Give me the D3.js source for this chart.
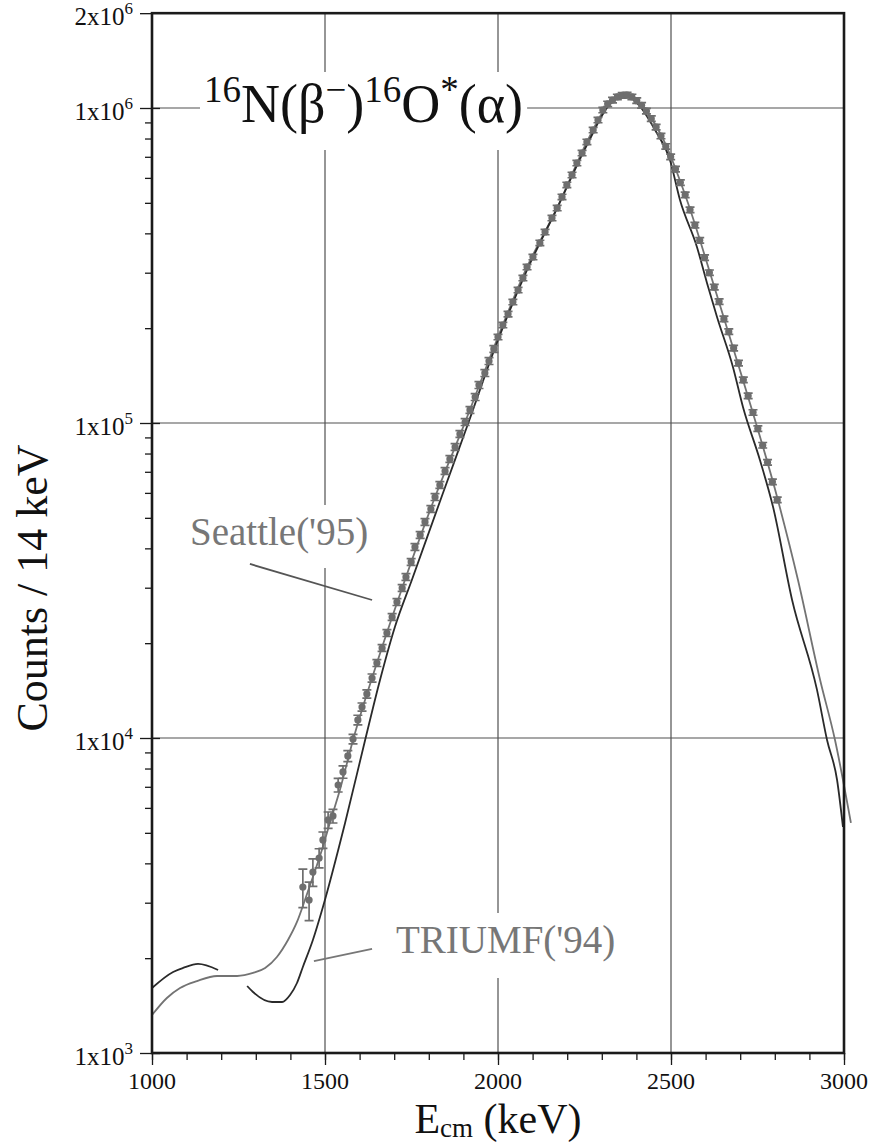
<!doctype html>
<html lang="en">
  <head>
    <meta charset="utf-8">
    <script src="https://d3js.org/d3.v7.min.js"></script>
    <title>16N beta-delayed alpha spectrum</title>
    <style>
      body { margin: 0; background: #fff; }
      svg text { font-family: "Liberation Serif", "DejaVu Serif", serif; }
    </style>
  </head>
  <body>
    <div id="chart"></div>
    <script type="text/javascript">

      /* Seattle('95) data points : energy (keV), counts / 14 keV, relative error (%) */
      const dataE = [1436,1454,1465,1483,1494,1509,1523,1538,1552,1566,1581,1595,1607,1621,1636,1650,1665,1679,1694,1708,
                     1723,1734,1749,1760,1775,1789,1806,1818,1832,1847,1861,1876,1890,1905,1919,1934,1945,1962,1974,1988,
                     2000,2014,2029,2043,2058,2072,2084,2101,2121,2136,2156,2171,2185,2199,2214,2228,2243,2257,2275,2289,
                     2303,2317,2331,2345,2359,2373,2387,2401,2415,2429,2443,2457,2471,2485,2499,2513,2527,2541,2555,2569,
                     2583,2597,2611,2625,2639,2653,2667,2681,2695,2709,2723,2737,2751,2765,2779,2793,2807];
      const dataC = [3365,3060,3755,4159,4746,5493,5656,7093,7802,8770,9927,11410,12540,13800,15500,17300,19310,21540,24220,27020,
                     29940,32440,36220,40400,44110,48510,53330,58210,63560,70410,76860,83920,92290,100700,110000,120900,132000,144100,157300,171800,
                     187500,204700,221800,242200,264400,288600,312800,336500,372900,404000,447500,481400,521900,569800,612900,669000,719700,780200,851500,916100,
                     985600,1030000,1060000,1084000,1097000,1099000,1084000,1055000,1020000,978000,925000,870000,815000,755000,700000,640000,580000,530000,475000,425000,
                     380000,335000,300000,270000,243000,214000,195000,173000,155000,137000,122000,108000,96000,85000,75000,65000,57000];
      const dataErr = [14,14,10,7,6,6,5,5,4.5,4,3.5,3.5,3,3,3,2.5,2.5,2.5,2.5,2.5,
                       2.5,2.5,2.5,2.5,2.5,2.5,2.5,2.5,2.5,2.5,2.5,2.5,2.5,2.5,2.5,2.5,2.5,2.5,2.5,2.5,
                       2,2,2,2,2,2,2,2,2,2,2,2,2,2,2,2,2,2,2,2,
                       2,2,2,2,2,2,2,2,2,2,2,2,2,2,2,2,2,2,2,2,
                       2,2,2,2,2,2,2,2,2,2,2,2,2,2,2,2,2];

      /* Courbe grise (ajustement Seattle) */
      const fitE = [1000,1043,1081,1130,1188,1246,1292,1327,1361,1393,1419,1442,1465,1491,1514,1543,1581,1650,1723,1818,
                    1905,2000,2084,2171,2257,2324,2367,2419,2477,2546,2627,2708,2809,2867,2931,2974,3020];
      const fitC = [1320,1495,1608,1692,1756,1756,1795,1862,2018,2284,2606,3060,3620,4410,5374,6838,9855,17300,29940,58210,
                    100700,187500,312800,481400,780200,1045000,1100000,1007000,797500,510500,266400,136900,56950,31740,15280,9855,5374];

      /* Courbe noire (TRIUMF('94)), en deux morceaux */
      const triumfE1 = [1000,1061,1090,1133,1191];
      const triumfC1 = [1608,1808,1862,1917,1834];
      const triumfE2 = [1275,1292,1347,1376,1399,1419,1436,1465,1494,1558,1616,1659,1702,1751,1841,
                        1910,2000,2084,2171,2257,2324,2367,2402,2454,2497,2526,2575,2604,2633,2679,2708,2757,2795,2850,
                        2922,2951,2980,2997];
      const triumfC2 = [1632,1562,1452,1452,1528,1668,1875,2284,2908,5374,9855,15280,22510,31740,59950,
                        97120,183400,306000,481400,763000,1030000,1092000,1037000,851500,683800,510500,362200,278300,217000,150600,112400,76300,54120,27420,
                        14210,9855,7356,5218];

      /* Axes */
      const xTicks = [1000, 1500, 2000, 2500, 3000];
      const yTicks = [1e3, 1e4, 1e5, 1e6, 2e6];
      const yTickMantissa = ["1", "1", "1", "1", "2"];
      const yTickExp = ["3", "4", "5", "6", "6"];

      const width = 873, height = 1143;
      const plotLeft = 152, plotRight = 844, plotBottom = 1053;
      const decade = 315;

      const x = d3.scaleLinear().domain([1000, 3000]).range([plotLeft, plotRight]);
      const y = d3.scaleLog().domain([1e3, 2e6]).range([plotBottom, plotBottom - decade * Math.log10(2000)]);
      const plotTop = y(2e6);

      const svg = d3.select("#chart").append("svg")
        .attr("width", width)
        .attr("height", height);

      // grille
      const grid = svg.append("g").attr("stroke", "#505050").attr("stroke-width", 1.2);
      grid.selectAll("line.gx")
        .data([1500, 2000, 2500])
        .enter().append("line")
          .attr("x1", d => x(d)).attr("x2", d => x(d))
          .attr("y1", plotTop).attr("y2", plotBottom);
      grid.selectAll("line.gy")
        .data([1e4, 1e5, 1e6])
        .enter().append("line")
          .attr("x1", plotLeft).attr("x2", plotRight)
          .attr("y1", d => y(d)).attr("y2", d => y(d));

      // étiquettes avec fond blanc (cachent la grille)
      function label(g, baseY, up, down, padX) {
        const b = g.node().getBBox();
        g.insert("rect", ":first-child")
          .attr("x", b.x - padX).attr("width", b.width + 2 * padX)
          .attr("y", baseY - up).attr("height", up + down)
          .attr("fill", "#fff");
      }

      const title = svg.append("g");
      const tt = title.append("text")
        .attr("x", 204).attr("y", 122)
        .attr("font-size", 54).attr("fill", "#111");
      tt.append("tspan").attr("font-size", 37).attr("dy", -20).text("16");
      tt.append("tspan").attr("dy", 20).text("N(β");
      tt.append("tspan").attr("font-size", 37).attr("dy", -20).text("−");
      tt.append("tspan").attr("dy", 20).text(")");
      tt.append("tspan").attr("font-size", 37).attr("dy", -20).text("16");
      tt.append("tspan").attr("dy", 20).text("O");
      tt.append("tspan").attr("font-size", 37).attr("dy", -20).text("*");
      tt.append("tspan").attr("dy", 20).text("(α)");
      label(title, 122, 50, 28, 4);

      const annFs = 39;
      const seattle = svg.append("g");
      seattle.append("text")
        .attr("x", 190).attr("y", 545)
        .attr("font-size", annFs).attr("fill", "#777")
        .text("Seattle('95)");
      label(seattle, 545, 40, 23, 5);

      const triumf = svg.append("g");
      triumf.append("text")
        .attr("x", 396).attr("y", 953)
        .attr("font-size", annFs).attr("fill", "#777")
        .text("TRIUMF('94)");
      label(triumf, 953, 40, 25, 5);

      // traits d'annotation
      svg.append("line")
        .attr("x1", x(1283)).attr("y1", y(35680))
        .attr("x2", x(1636)).attr("y2", y(27420))
        .attr("stroke", "#555").attr("stroke-width", 1.8);
      svg.append("line")
        .attr("x1", x(1636)).attr("y1", y(2139))
        .attr("x2", x(1468)).attr("y2", y(1959))
        .attr("stroke", "#777").attr("stroke-width", 1.8);

      // courbes
      const line = d3.line()
        .x(d => x(d[0]))
        .y(d => y(d[1]))
        .curve(d3.curveMonotoneX);

      svg.append("path")
        .datum(fitE.map((e, i) => [e, fitC[i]]))
        .attr("d", line)
        .attr("fill", "none").attr("stroke", "#737373").attr("stroke-width", 1.8);

      [[triumfE1, triumfC1], [triumfE2, triumfC2]].forEach(function (s) {
        svg.append("path")
          .datum(s[0].map((e, i) => [e, s[1][i]]))
          .attr("d", line)
          .attr("fill", "none").attr("stroke", "#2a2a2a").attr("stroke-width", 1.8);
      });

      // points avec barres d'erreur
      const pts = dataE.map((e, i) => ({e: e, c: dataC[i], err: dataErr[i] / 100}));
      const pg = svg.append("g").attr("stroke", "#6e6e6e").attr("fill", "#6e6e6e");
      pg.selectAll("path.err")
        .data(pts)
        .enter().append("path")
          .attr("fill", "none").attr("stroke-width", 1.7)
          .attr("d", function (d) {
            const cx = x(d.e), y1 = y(d.c * (1 + d.err)), y2 = y(d.c * (1 - d.err));
            return "M" + (cx - 4.5) + "," + y1 + "H" + (cx + 4.5) +
                   "M" + cx + "," + y1 + "V" + y2 +
                   "M" + (cx - 4.5) + "," + y2 + "H" + (cx + 4.5);
          });
      pg.selectAll("circle")
        .data(pts)
        .enter().append("circle")
          .attr("stroke", "none")
          .attr("cx", d => x(d.e))
          .attr("cy", d => y(d.c))
          .attr("r", 3.6);

      // cadre
      svg.append("rect")
        .attr("x", plotLeft).attr("y", plotTop)
        .attr("width", plotRight - plotLeft).attr("height", plotBottom - plotTop)
        .attr("fill", "none").attr("stroke", "#1a1a1a").attr("stroke-width", 2.6);

      // axe X
      const gx = svg.append("g").attr("transform", "translate(0," + plotBottom + ")");
      gx.call(d3.axisBottom(x).tickValues(d3.range(1000, 3001, 100)).tickSize(7).tickFormat(""));
      gx.append("g").call(d3.axisBottom(x).tickValues(xTicks).tickSize(12).tickFormat(""));
      gx.selectAll(".domain").remove();
      gx.selectAll("line").attr("stroke", "#1a1a1a").attr("stroke-width", 1.3);
      svg.selectAll("text.xl")
        .data(xTicks)
        .enter().append("text")
          .attr("x", d => x(d)).attr("y", 1089)
          .attr("text-anchor", "middle")
          .attr("font-size", 24).attr("fill", "#111")
          .text(d => d);

      // axe Y
      const minorY = [];
      [1e3, 1e4, 1e5].forEach(function (dec) {
        for (let k = 2; k <= 9; k++) minorY.push(k * dec);
      });
      const gy = svg.append("g").attr("transform", "translate(" + plotLeft + ",0)");
      gy.append("g").call(d3.axisLeft(y).tickValues(minorY).tickSize(7).tickFormat(""));
      gy.append("g").call(d3.axisLeft(y).tickValues(yTicks).tickSize(12).tickFormat(""));
      gy.append("g").call(d3.axisRight(y).tickValues(yTicks.slice(0, 4)).tickSize(8).tickFormat(""));
      gy.selectAll(".domain").remove();
      gy.selectAll("line").attr("stroke", "#1a1a1a").attr("stroke-width", 1.3);

      yTicks.forEach(function (v, i) {
        const t = svg.append("text")
          .attr("x", 133).attr("y", y(v) + 12)
          .attr("text-anchor", "end")
          .attr("font-size", 25).attr("fill", "#111");
        t.append("tspan").text(yTickMantissa[i] + "x10");
        t.append("tspan").attr("font-size", 17).attr("dy", -11).text(yTickExp[i]);
      });

      // titres des axes
      const xl = svg.append("text")
        .attr("x", 498).attr("y", 1133)
        .attr("text-anchor", "middle")
        .attr("font-size", 42).attr("fill", "#111");
      xl.append("tspan").text("E");
      xl.append("tspan").attr("font-size", 27).attr("dy", 4).text("cm");
      xl.append("tspan").attr("dy", -4).text(" (keV)");

      svg.append("text")
        .attr("transform", "translate(47,588) rotate(-90)")
        .attr("text-anchor", "middle")
        .attr("font-size", 44).attr("fill", "#111")
        .text("Counts / 14 keV");
    </script>
  </body>
</html>
